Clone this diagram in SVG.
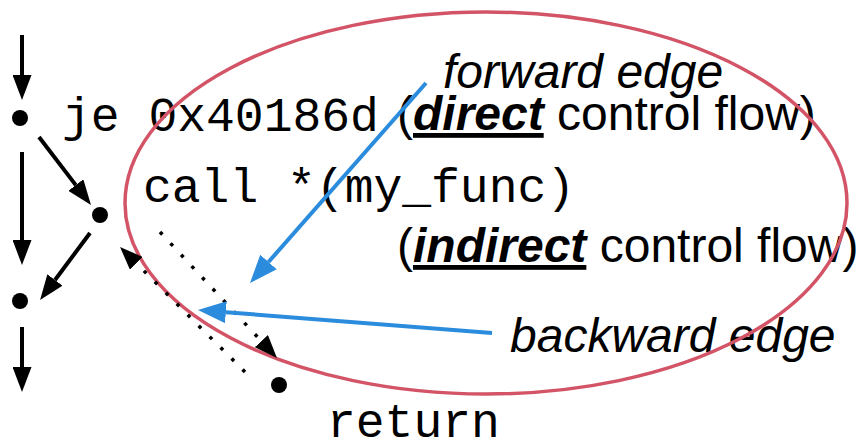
<svg xmlns="http://www.w3.org/2000/svg" width="860" height="443" viewBox="0 0 860 443">
  <style>
    .code { font-family: "Liberation Mono", "Courier New", monospace; font-size: 48px; fill: #000; }
    .label { font-family: "Liberation Sans", Arial, sans-serif; font-size: 48px; fill: #000; }
    .em { font-style: italic; }
    .strong { font-weight: bold; font-style: italic; text-decoration: underline; }
    .flow { stroke: #000; stroke-width: 4; fill: none; }
    .dotted { stroke: #000; stroke-width: 3.5; fill: none; stroke-dasharray: 3.5 12; }
    .edge { stroke: #2b8bdc; stroke-width: 4; fill: none; }
    .dot { fill: #000; }
  </style>
  <defs>
    <marker id="head" markerUnits="userSpaceOnUse" markerWidth="25" markerHeight="19" refX="0" refY="9.5" orient="auto">
      <path d="M0,0 L25,9.5 L0,19 z" fill="#000"/>
    </marker>
    <marker id="headSmall" markerUnits="userSpaceOnUse" markerWidth="23" markerHeight="18" refX="0" refY="9" orient="auto">
      <path d="M0,0 L23,9 L0,18 z" fill="#000"/>
    </marker>
    <marker id="headBlue" markerUnits="userSpaceOnUse" markerWidth="28" markerHeight="22" refX="0" refY="11" orient="auto">
      <path d="M0,0 L28,11 L0,22 z" fill="#2b8bdc"/>
    </marker>
  </defs>

  <!-- instruction labels -->
  <g id="texts">
    <text class="code" x="62" y="131">je 0x40186d</text>
    <text class="code" x="143" y="202">call *(my_func)</text>
    <text class="code" x="327" y="437">return</text>
    <text class="label em" x="443" y="88">forward edge</text>
    <text class="label" x="397" y="130">(<tspan class="strong">direct</tspan> control flow)</text>
    <text class="label" x="397" y="262">(<tspan class="strong">indirect</tspan> control flow)</text>
    <text class="label em" x="510" y="352">backward edge</text>
  </g>

  <!-- region around the call site -->
  <g id="region">
    <ellipse cx="486" cy="203" rx="361" ry="191" fill="none" stroke="#d25466" stroke-width="3.5"/>
  </g>

  <!-- basic-block nodes -->
  <g id="node-je"><circle class="dot" cx="20" cy="118" r="8"/></g>
  <g id="node-call"><circle class="dot" cx="100" cy="215" r="8"/></g>
  <g id="node-next"><circle class="dot" cx="20" cy="301" r="8"/></g>
  <g id="node-return"><circle class="dot" cx="279" cy="385" r="8"/></g>

  <!-- control-flow connectors -->
  <g id="connectors">
    <line class="flow" x1="22" y1="35" x2="22" y2="75" marker-end="url(#head)"/>
    <line class="flow" x1="39" y1="137" x2="75.8" y2="185.1" marker-end="url(#head)"/>
    <line class="flow" x1="22" y1="152" x2="22" y2="240" marker-end="url(#head)"/>
    <line class="flow" x1="90" y1="233" x2="55" y2="280" marker-end="url(#head)"/>
    <line class="flow" x1="22" y1="327" x2="22" y2="367" marker-end="url(#head)"/>
    <line class="dotted" x1="160" y1="232" x2="261.3" y2="341.1" marker-end="url(#headSmall)"/>
    <line class="dotted" x1="245" y1="372" x2="136.3" y2="263.3" marker-end="url(#headSmall)"/>
    <line class="edge" x1="426" y1="83" x2="268.5" y2="262" marker-end="url(#headBlue)"/>
    <line class="edge" x1="492" y1="333" x2="225.9" y2="312.2" marker-end="url(#headBlue)"/>
  </g>
</svg>
